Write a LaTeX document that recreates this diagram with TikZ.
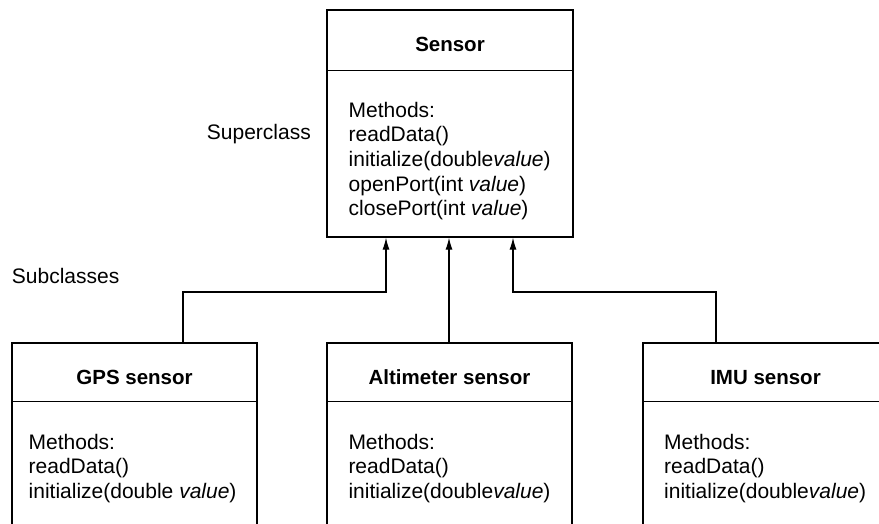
\documentclass[tikz,border=0pt]{standalone}
\usepackage{fontspec}
\setmainfont{Liberation Sans}
\usetikzlibrary{arrows.meta}
\begin{document}
\begin{tikzpicture}[x=1pt,y=-1pt,
  box/.style={draw, line width=1.2pt, rectangle, inner sep=0pt},
  divider/.style={line width=1.2pt},
  ttl/.style={font=\fontsize{20.5}{24}\selectfont\bfseries, anchor=base, inner sep=0pt},
  txt/.style={font=\fontsize{21}{24}\selectfont, anchor=base west, inner sep=0pt},
  arr/.style={line width=1.2pt, -{Latex[length=12pt,width=7pt]}}]
\useasboundingbox (0,0) rectangle (879,524);
\clip (0,0) rectangle (879,524);

% boxes
\node[box, minimum width=246pt, minimum height=227pt] (sensor) at (450,123.5) {};
\node[box, minimum width=245pt, minimum height=257pt] (gps) at (134.5,471.5) {};
\node[box, minimum width=245pt, minimum height=257pt] (alt) at (449.5,471.5) {};
\node[box, minimum width=245pt, minimum height=257pt] (imu) at (765.5,471.5) {};

% dividers
\draw[divider] ([yshift=-61pt]sensor.north west) -- ([yshift=-61pt]sensor.north east);
\draw[divider] ([yshift=-59pt]gps.north west) -- ([yshift=-59pt]gps.north east);
\draw[divider] ([yshift=-59pt]alt.north west) -- ([yshift=-59pt]alt.north east);
\draw[divider] ([yshift=-59pt]imu.north west) -- ([yshift=-59pt]imu.north east);

% titles
\node[ttl] (sensorT) at (450,51.7) {Sensor};
\node[ttl] (gpsT) at (134.5,384.5) {GPS sensor};
\node[ttl] (altT) at (449.5,384.5) {Altimeter sensor};
\node[ttl] (imuT) at (765.5,384.5) {IMU sensor};

% sensor methods
\node[txt] (s1) at (348.5,117.3) {Methods:};
\node[txt] (s2) at (348.5,141.9) {readData()};
\node[txt] (s3) at (348.5,166.5) {initialize(double\textit{value})};
\node[txt] (s4) at (348.5,191.1) {openPort(int \textit{value})};
\node[txt] (s5) at (348.5,215.7) {closePort(int \textit{value})};

% gps methods
\node[txt] (g1) at (28.5,449) {Methods:};
\node[txt] (g2) at (28.5,473.5) {readData()};
\node[txt] (g3) at (28.5,498) {initialize(double \textit{value})};

% altimeter methods
\node[txt] (a1) at (348.3,449) {Methods:};
\node[txt] (a2) at (348.3,473.5) {readData()};
\node[txt] (a3) at (348.3,498) {initialize(double\textit{value})};

% imu methods
\node[txt] (i1) at (664,449) {Methods:};
\node[txt] (i2) at (664,473.5) {readData()};
\node[txt] (i3) at (664,498) {initialize(double\textit{value})};

% side labels
\node[txt] (super) at (206.7,140) {Superclass};
\node[txt] (sub) at (11.7,283.3) {Subclasses};

% connectors
\coordinate (jl) at (386,292);
\coordinate (jr) at (513,292);
\draw[arr] ([xshift=48.5pt]gps.north) |- (jl) -- (jl |- sensor.south);
\draw[arr] ([xshift=-0.5pt]alt.north) -- ([xshift=-0.5pt]alt.north |- sensor.south);
\draw[arr] ([xshift=-49.5pt]imu.north) |- (jr) -- (jr |- sensor.south);
\end{tikzpicture}
\end{document}
